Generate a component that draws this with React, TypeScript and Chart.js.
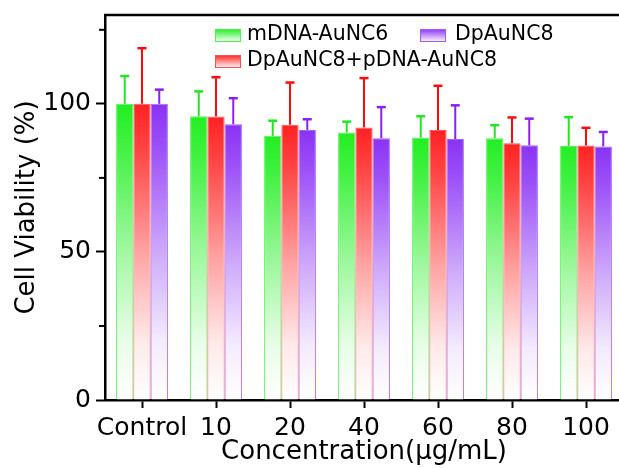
import React, { useEffect, useRef } from 'react';
import { Chart, registerables } from 'chart.js';

Chart.register(...registerables);

// ---- data ----
const categories = ['Control', '10', '20', '40', '60', '80', '100'];
const seriesNames = ['mDNA-AuNC6', 'DpAuNC8+pDNA-AuNC8', 'DpAuNC8'];
const mDNAValues = [100, 95.8, 89.2, 90.3, 88.6, 88.4, 85.8];
const mDNAErrors = [9.4, 8.4, 5.1, 3.7, 7.2, 4.4, 9.7];
const comboValues = [100, 95.7, 92.9, 92.0, 91.2, 86.7, 85.9];
const comboErrors = [18.8, 13.3, 14.3, 16.7, 14.9, 8.7, 6.0];
const dpValues = [100, 93.1, 91.2, 88.4, 88.1, 86.0, 85.6];
const dpErrors = [4.8, 8.8, 3.6, 10.5, 11.4, 9.0, 4.9];
const yLabeledTicks = [0, 50, 100];
const yMinorTicks = [25, 75, 125];

// ---- styles ----
const FONT = "'DejaVu Sans', 'Liberation Sans', Arial, sans-serif";
const seriesRGB: number[][] = [
  [34, 238, 34],
  [255, 34, 34],
  [138, 50, 245],
];
const errorColors = ['#22e622', '#ff0a0a', '#8a1ff0'];

function mix(rgb: number[], t: number) {
  const c = rgb.map((v) => Math.round(255 - (255 - v) * t));
  return `rgb(${c[0]},${c[1]},${c[2]})`;
}

function barFill(rgb: number[]) {
  return (ctx: any) => {
    const chart = ctx.chart;
    const area = chart.chartArea;
    if (!area || ctx.raw === undefined || !chart.scales.y) return mix(rgb, 1);
    const ys = chart.scales.y;
    const top = ys.getPixelForValue(ctx.raw as number);
    const bottom = ys.getPixelForValue(0);
    if (!(bottom > top)) return mix(rgb, 1);
    const g = chart.ctx.createLinearGradient(0, top, 0, bottom);
    g.addColorStop(0, mix(rgb, 1));
    g.addColorStop(0.15, mix(rgb, 0.85));
    g.addColorStop(0.5, mix(rgb, 0.42));
    g.addColorStop(0.8, mix(rgb, 0.1));
    g.addColorStop(1, 'rgb(255,255,255)');
    return g;
  };
}

const errorBarsPlugin = {
  id: 'errorBars',
  afterDatasetsDraw(chart: any) {
    const { ctx } = chart;
    const ys = chart.scales.y;
    chart.data.datasets.forEach((ds: any, i: number) => {
      const meta = chart.getDatasetMeta(i);
      meta.data.forEach((bar: any, j: number) => {
        const v = ds.data[j] as number;
        const top = ys.getPixelForValue(v + ds.errors[j]);
        ctx.save();
        ctx.strokeStyle = ds.errorColor;
        ctx.lineWidth = 2;
        ctx.beginPath();
        ctx.moveTo(bar.x, bar.y);
        ctx.lineTo(bar.x, top);
        ctx.stroke();
        ctx.lineWidth = 2.5;
        ctx.beginPath();
        ctx.moveTo(bar.x - 4.5, top);
        ctx.lineTo(bar.x + 4.5, top);
        ctx.stroke();
        ctx.restore();
      });
    });
  },
};

const framePlugin = {
  id: 'frame',
  afterDraw(chart: any) {
    const { ctx, chartArea } = chart;
    const ys = chart.scales.y;
    ctx.save();
    ctx.strokeStyle = '#000';
    ctx.lineWidth = 2.5;
    ctx.beginPath();
    ctx.moveTo(chartArea.left - 1, chartArea.top);
    ctx.lineTo(chartArea.right, chartArea.top);
    ctx.lineTo(chartArea.right, chartArea.bottom);
    ctx.stroke();
    ctx.lineWidth = 2;
    // minor ticks on y axis
    yMinorTicks.forEach((v) => {
      const p = ys.getPixelForValue(v);
      ctx.beginPath();
      ctx.moveTo(chartArea.left - 6, p);
      ctx.lineTo(chartArea.left, p);
      ctx.stroke();
    });
    ctx.restore();
  },
};

// legend layout: [dataset index, box dx, box dy, text dx] relative to chart area top-left
const legendLayout = [
  [0, 110, 14, 142],
  [2, 315, 14, 350],
  [1, 110, 40, 142],
];

const legendPlugin = {
  id: 'insideLegend',
  afterDraw(chart: any) {
    const { ctx, chartArea } = chart;
    ctx.save();
    legendLayout.forEach(([idx, dx, dy, tx]) => {
      const ds = chart.data.datasets[idx];
      const rgb = seriesRGB[idx];
      const x = chartArea.left + dx;
      const y = chartArea.top + dy;
      const w = 26;
      const h = 13;
      const g = ctx.createLinearGradient(0, y, 0, y + h);
      g.addColorStop(0, mix(rgb, 1));
      g.addColorStop(1, 'rgb(255,255,255)');
      ctx.fillStyle = g;
      ctx.fillRect(x, y, w, h);
      ctx.strokeStyle = mix(rgb, 0.8);
      ctx.lineWidth = 1;
      ctx.strokeRect(x + 0.5, y + 0.5, w - 1, h - 1);
      ctx.fillStyle = '#000';
      ctx.font = `20.5px ${FONT}`;
      ctx.textBaseline = 'middle';
      ctx.textAlign = 'left';
      ctx.fillText(ds.label, chartArea.left + tx, y + 6);
    });
    ctx.restore();
  },
};

export default function App() {
  const canvasRef = useRef<HTMLCanvasElement | null>(null);

  useEffect(() => {
    if (!canvasRef.current) return;
    const valuesList = [mDNAValues, comboValues, dpValues];
    const errorsList = [mDNAErrors, comboErrors, dpErrors];
    const chart = new Chart(canvasRef.current, {
      type: 'bar',
      data: {
        labels: categories,
        datasets: seriesNames.map((name, i) => ({
          label: name,
          data: valuesList[i],
          errors: errorsList[i],
          errorColor: errorColors[i],
          backgroundColor: barFill(seriesRGB[i]),
          borderColor: `rgba(${seriesRGB[i].join(',')},0.75)`,
          borderWidth: 1,
          categoryPercentage: 0.7,
          barPercentage: 1.0,
        })) as any,
      },
      options: {
        animation: false,
        responsive: false,
        maintainAspectRatio: false,
        devicePixelRatio: 1,
        layout: { padding: { top: 15, right: 17, left: 0, bottom: 0 } },
        plugins: {
          legend: { display: false },
          tooltip: { enabled: false },
        },
        scales: {
          x: {
            type: 'category',
            offset: true,
            afterFit: (s: any) => {
              s.height = 68;
              s.paddingLeft = 0;
              s.paddingRight = 0;
            },
            grid: {
              display: true,
              drawOnChartArea: false,
              offset: false,
              tickLength: 8,
              tickWidth: 2,
              tickColor: '#000',
            },
            border: { display: true, color: '#000', width: 2.5 },
            ticks: {
              color: '#000',
              padding: 5,
              maxRotation: 0,
              autoSkip: false,
              font: { family: FONT, size: 25 },
            },
            title: {
              display: true,
              text: 'Concentration(\u03bcg/mL)',
              color: '#000',
              font: { family: FONT, size: 26 },
              padding: { top: 0, bottom: 0 },
            },
          },
          y: {
            type: 'linear',
            min: 0,
            max: 130,
            afterFit: (s: any) => {
              s.width = 105;
              s.paddingTop = 0;
              s.paddingBottom = 0;
            },
            afterBuildTicks: (s: any) => {
              s.ticks = yLabeledTicks.map((v) => ({ value: v }));
            },
            grid: {
              display: true,
              drawOnChartArea: false,
              tickLength: 9,
              tickWidth: 2,
              tickColor: '#000',
            },
            border: { display: true, color: '#000', width: 2.5 },
            ticks: {
              color: '#000',
              padding: 5,
              font: { family: FONT, size: 25 },
              callback: (v: any) => String(v),
            },
            title: {
              display: true,
              text: 'Cell Viability (%)',
              color: '#000',
              font: { family: FONT, size: 26 },
              padding: { top: 12, bottom: 0 },
            },
          },
        },
      } as any,
      plugins: [errorBarsPlugin, framePlugin, legendPlugin],
    });
    return () => chart.destroy();
  }, []);

  return (
    <div
      style={{
        position: 'fixed',
        left: 0,
        top: 0,
        width: 619,
        height: 468,
        overflow: 'hidden',
        background: '#fff',
      }}
    >
      <canvas
        ref={canvasRef}
        width={640}
        height={468}
        style={{ display: 'block', width: 640, height: 468 }}
      />
    </div>
  );
}
